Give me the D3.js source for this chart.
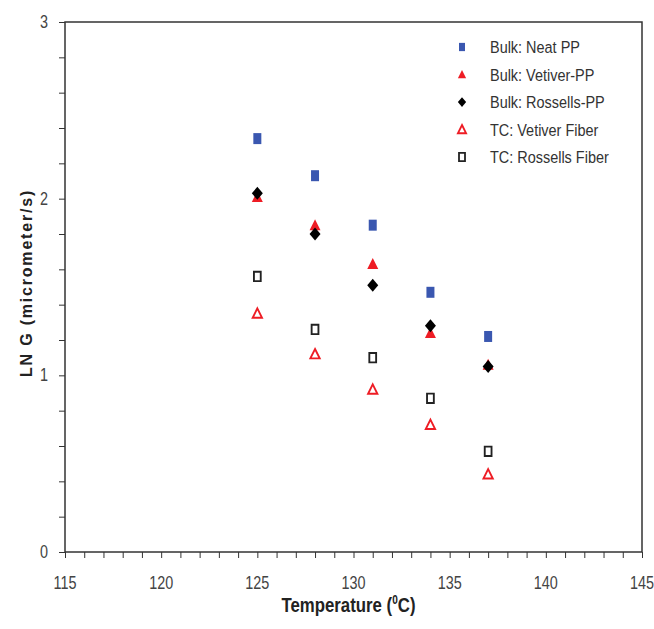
<!DOCTYPE html>
<html>
<head>
<meta charset="utf-8">
<script src="https://cdn.jsdelivr.net/npm/d3@7"></script>
<style>
  body { margin: 0; background: #fff; }
  svg text { font-family: "Liberation Sans", Arial, sans-serif; }
</style>
</head>
<body>
<div id="chart"></div>
<script>
// temperatures and LN G values
const temps = [125, 128, 131, 134, 137];
const bulkNeat = [2.34, 2.13, 1.85, 1.47, 1.22];
const bulkVetiver = [2.01, 1.85, 1.63, 1.24, 1.06];
const bulkRossells = [2.03, 1.80, 1.51, 1.28, 1.05];
const tcVetiver = [1.35, 1.12, 0.92, 0.72, 0.44];
const tcRossells = [1.56, 1.26, 1.10, 0.87, 0.57];

const xTicks = [115, 120, 125, 130, 135, 140, 145];
const yTicks = [0, 1, 2, 3];

const series = [
    { name: "Bulk: Neat PP", values: bulkNeat, shape: "square", fill: "#3a57b0", stroke: "none" },
    { name: "Bulk: Vetiver-PP", values: bulkVetiver, shape: "triangle", fill: "#ee1c24", stroke: "none" },
    { name: "Bulk: Rossells-PP", values: bulkRossells, shape: "diamond", fill: "#000", stroke: "none" },
    { name: "TC: Vetiver Fiber", values: tcVetiver, shape: "triangle", fill: "#fff", stroke: "#ee1c24" },
    { name: "TC: Rossells Fiber", values: tcRossells, shape: "square", fill: "#fff", stroke: "#222" }
];

const width = 654, height = 629;
const margin = { top: 22, right: 12, bottom: 77, left: 65 };

const svg = d3.select("#chart").append("svg")
    .attr("width", width)
    .attr("height", height);

const x = d3.scaleLinear().domain([115, 145]).range([margin.left, width - margin.right]);
const y = d3.scaleLinear().domain([0, 3]).range([height - margin.bottom, margin.top]);

// frame
svg.append("rect")
    .attr("x", x(115)).attr("y", y(3))
    .attr("width", x(145) - x(115)).attr("height", y(0) - y(3))
    .attr("fill", "none").attr("stroke", "#333").attr("stroke-width", 1.5);

// x axis with minor ticks every 1
let xAxis = svg.append("g").attr("transform", `translate(0,${y(0)})`);
xAxis.call(d3.axisBottom(x).tickValues(d3.range(115, 146, 1)).tickSize(6).tickFormat(""))
xAxis.select(".domain").remove();
xAxis.selectAll("line").attr("stroke", "#333");
xTicks.forEach(t => {
    xAxis.append("text")
        .attr("x", 0).attr("y", 37)
        .attr("text-anchor", "middle")
        .attr("fill", "#444")
        .attr("font-size", 18)
        .attr("transform", `translate(${x(t)},0) scale(0.8,1)`)
        .text(t);
});

// y axis with minor ticks every 0.2
let yAxis = svg.append("g").attr("transform", `translate(${x(115)},0)`);
yAxis.call(d3.axisLeft(y).tickValues(d3.range(0, 3.01, 0.2)).tickSize(6).tickFormat(""));
yAxis.select(".domain").remove();
yAxis.selectAll("line").attr("stroke", "#333");
yTicks.forEach(t => {
    yAxis.append("text")
        .attr("x", 0).attr("y", y(t) + 6)
        .attr("text-anchor", "end")
        .attr("fill", "#444")
        .attr("font-size", 18)
        .attr("transform", "translate(-17,0) scale(0.8,1)")
        .text(t);
});

// axis titles
svg.append("text")
    .attr("transform", `translate(32,${(y(0) + y(3)) / 2 - 4}) rotate(-90)`)
    .attr("text-anchor", "middle")
    .attr("font-size", 16)
    .attr("font-weight", "bold")
    .attr("fill", "#222")
    .attr("letter-spacing", 1.8)
    .text("LN G (micrometer/s)");

let xTitle = svg.append("text")
    .attr("transform", `translate(${(x(115) + x(145)) / 2 - 5},${height - 17}) scale(0.84,1)`)
    .attr("text-anchor", "middle")
    .attr("font-size", 20)
    .attr("font-weight", "bold")
    .attr("fill", "#222");
xTitle.append("tspan").text("Temperature (");
xTitle.append("tspan").attr("dy", -8).attr("font-size", 12).text("0");
xTitle.append("tspan").attr("dy", 8).text("C)");

function symbolPath(shape) {
    if (shape === "square") return "M-4,-5.5H4V5.5H-4Z";
    if (shape === "triangle") return "M0,-6L5.5,5H-5.5Z";
    return "M0,-6.5L5.5,0L0,6.5L-5.5,0Z";
}

// points
series.forEach(s => {
    let open = s.stroke !== "none";
    svg.append("g").selectAll("path")
        .data(temps.map((t, i) => [t, s.values[i]]))
        .enter().append("path")
        .attr("transform", d => `translate(${x(d[0])},${y(d[1])})` + (open ? " scale(0.85)" : ""))
        .attr("d", symbolPath(s.shape))
        .attr("fill", s.fill)
        .attr("stroke", s.stroke)
        .attr("stroke-width", open ? 2.2 : 0);
});

// legend
let legend = svg.append("g").attr("transform", "translate(462,47)");
series.forEach((s, i) => {
    let open = s.stroke !== "none";
    let row = legend.append("g").attr("transform", `translate(0,${i * 27.5})`);
    row.append("path")
        .attr("d", symbolPath(s.shape))
        .attr("transform", "scale(0.75)")
        .attr("fill", s.fill)
        .attr("stroke", s.stroke)
        .attr("stroke-width", open ? 2.4 : 0);
    row.append("text")
        .attr("x", 0).attr("y", 6)
        .attr("font-size", 17)
        .attr("fill", "#333")
        .attr("transform", "translate(28,0) scale(0.85,1)")
        .text(s.name);
});
</script>
</body>
</html>
